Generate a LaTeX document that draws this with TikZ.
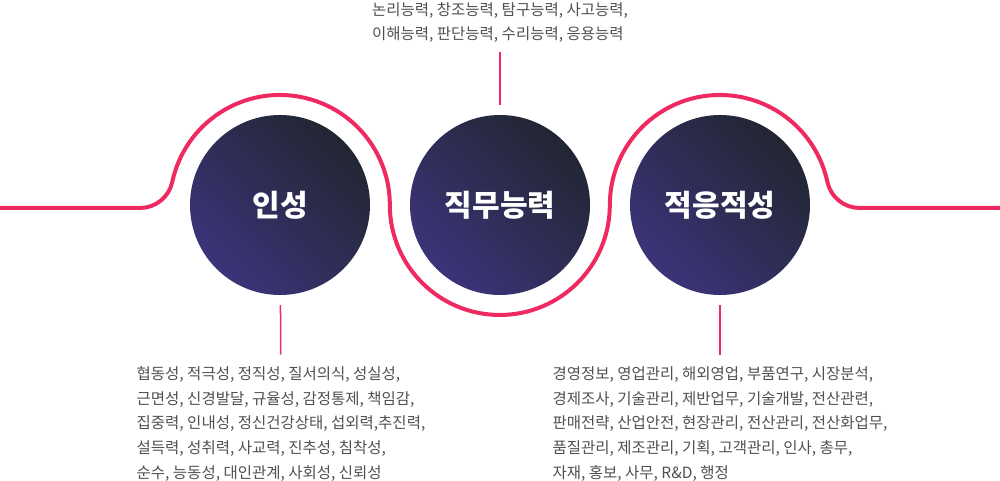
\documentclass[tikz,border=0pt]{standalone}
\usepackage{fontspec}
\usetikzlibrary{positioning}
\newfontfamily\kr{Noto Sans CJK KR}
\definecolor{Rose}{HTML}{EE2A61}
\definecolor{Indigo}{HTML}{3B3479}
\definecolor{Ink}{HTML}{222632}
\definecolor{Slate}{HTML}{505050}

\begin{document}
\begin{tikzpicture}[x=1pt,y=1pt,
  ball/.style={circle,minimum size=180pt,inner sep=0pt,bottom color=Indigo,top color=Ink,shading angle=-45,text=white,font=\kr\bfseries\fontsize{30}{33}\selectfont},
  list/.style={align=left,text=Slate,font=\kr\fontsize{15.5}{24.6}\selectfont,inner sep=0pt},
  tick/.style={Rose,line width=1.5pt}]
  \useasboundingbox (0,0) rectangle (1000,481);
  \draw[Rose,line width=4pt] (0,273) -- (140,273) arc[start angle=270,end angle=347.9,radius=33]
    arc[start angle=167.9,end angle=0,radius=110] arc[start angle=180,end angle=360,radius=110]
    arc[start angle=180,end angle=12.1,radius=110] arc[start angle=192.1,end angle=270,radius=33] -- (1000,273);
  \foreach \n/\x/\t in {inseong/280/인성,jikmu/500/직무능력,jeokeung/720/적응적성}
    \node[ball] (\n) at (\x,276) {\t};
  \node[list] (jikmutxt) at (500,458.5) {논리능력, 창조능력, 탐구능력, 사고능력,\\이해능력, 판단능력, 수리능력, 응용능력};
  \node[list] (inseongtxt) at (281,57) {협동성, 적극성, 정직성, 질서의식, 성실성,\\근면성, 신경발달, 규율성, 감정통제, 책임감,\\집중력, 인내성, 정신건강상태, 섭외력,추진력,\\설득력, 성취력, 사교력, 진추성, 침착성,\\순수, 능동성, 대인관계, 사회성, 신뢰성};
  \node[list] (jeokeungtxt) at (720,57) {경영정보, 영업관리, 해외영업, 부품연구, 시장분석,\\경제조사, 기술관리, 제반업무, 기술개발, 전산관련,\\판매전략, 산업안전, 현장관리, 전산관리, 전산화업무,\\품질관리, 제조관리, 기획, 고객관리, 인사, 총무,\\자재, 홍보, 사무, R\&D, 행정};
  \draw[tick,shorten <=10pt,shorten >=9pt] (jikmu) -- (jikmutxt);
  \draw[tick,shorten <=10pt,shorten >=12pt] (inseong) -- (inseongtxt);
  \draw[tick,shorten <=10pt,shorten >=12pt] (jeokeung) -- (jeokeungtxt);
\end{tikzpicture}
\end{document}
